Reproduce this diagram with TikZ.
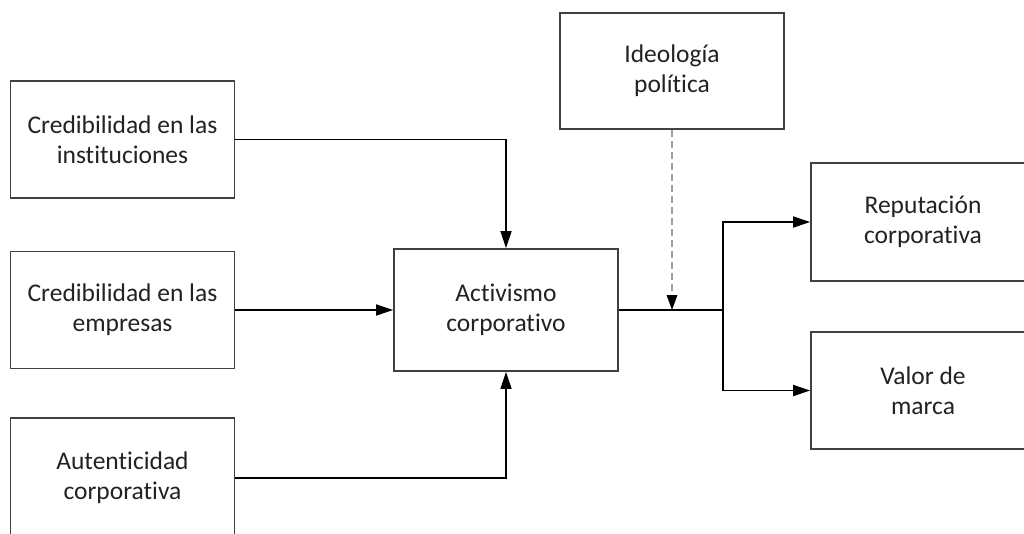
\documentclass[tikz,border=0pt]{standalone}
\usepackage{fontspec}
\setmainfont{Carlito}[Ligatures=NoCommon]
\usetikzlibrary{arrows.meta}
\definecolor{boxline}{HTML}{404040}
\definecolor{txt}{HTML}{222222}
\definecolor{dashcol}{HTML}{A0A0A0}
\begin{document}
\begin{tikzpicture}[x=1pt,y=-1pt,
  box/.style={draw=boxline,line width=1.6pt,fill=white,minimum width=224pt,minimum height=117pt,
    align=center,text=txt,font=\fontsize{25.5}{30}\selectfont,inner sep=0pt},
  conn/.style={draw=black,line width=1.4pt},
  tip/.style={-{Triangle[length=17pt,width=11pt]}}]
\useasboundingbox (0,0) rectangle (1024,533);
\clip (0,0) rectangle (1024,533);
\fill[white] (0,0) rectangle (1024,533);
\node[box] (b1) at (122.5,139.5) {Credibilidad en las\\instituciones};
\node[box] (b2) at (122.5,310) {Credibilidad en las\\empresas};
\node[box,minimum height=120pt] (b3) at (122.5,478) {Autenticidad\\corporativa};
\node[box,minimum height=122pt] (act) at (506,310) {Activismo\\corporativo};
\node[box,minimum height=116pt] (ide) at (672,71) {Ideología\\política};
\node[box,minimum height=118pt] (rep) at (923,222) {Reputación\\corporativa};
\node[box,minimum height=117pt] (val) at (923,390.5) {Valor de\\marca};
\coordinate (split) at (723,310);
\coordinate (mod) at (ide.south |- act.east);
\draw[conn,tip] (b1.east) -| (act.north);
\draw[conn,tip] (b2.east) -- (b2.east -| act.west);
\draw[conn,tip] (b3.east) -| (act.south);
\draw[conn] (act.east) -- (split);
\draw[conn,tip] (split) |- (rep.west);
\draw[conn,tip] (split) |- (val.west);
\draw[draw=dashcol,line width=1.4pt,dash pattern=on 7pt off 4pt] (ide.south) -- ([yshift=15pt]mod);
\fill[black] (mod) -- ++(-5.5,-15) -- ++(11,0) -- cycle;
\end{tikzpicture}
\end{document}
